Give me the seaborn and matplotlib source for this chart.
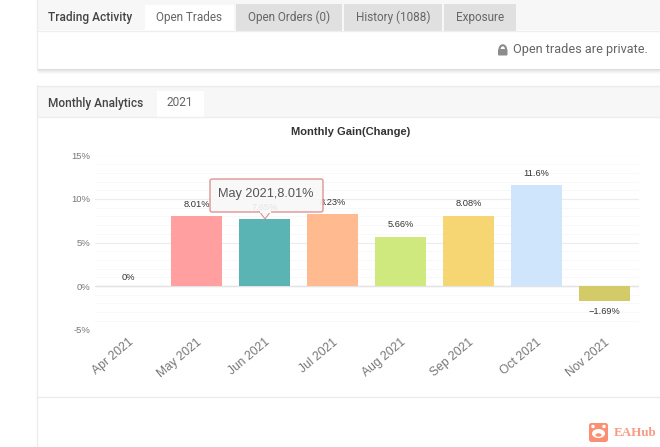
"""
Monthly gain bar chart inside the Trading Activity / Monthly Analytics page
"""

import matplotlib
matplotlib.use('Agg')
import matplotlib.pyplot as plt
from matplotlib.patches import Rectangle, FancyBboxPatch, Polygon, Ellipse, Arc
from matplotlib.ticker import MultipleLocator
import pandas as pd
import seaborn as sns

months = ['Apr 2021', 'May 2021', 'Jun 2021', 'Jul 2021',
          'Aug 2021', 'Sep 2021', 'Oct 2021', 'Nov 2021']
gains = [0, 8.01, 7.65, 8.23, 5.66, 8.08, 11.6, -1.69]
gain_labels = ['0%', '8.01%', '7.65%', '8.23%', '5.66%', '8.08%', '11.6%', '\u22121.69%']
bar_colors = ['#c23531', '#ff9f9f', '#5ab4b4', '#ffba8f',
              '#cfe97f', '#f6d673', '#cfe5fb', '#d3cb68']
y_ticks = [-5, 0, 5, 10, 15]

W, H = 660, 447

sns.set_theme(style='white')
plt.rcParams['font.family'] = ['Liberation Sans', 'DejaVu Sans']

fig = plt.figure(figsize=(W / 100, H / 100), dpi=100, facecolor='white')

# page chrome, drawn in pixel coordinates
page = fig.add_axes([0, 0, 1, 1], zorder=0)
page.set_xlim(0, W)
page.set_ylim(H, 0)
page.axis('off')


def box(x, y, w, h, color, **kw):
    page.add_patch(Rectangle((x, y), w, h, facecolor=color, edgecolor='none', **kw))


# shadow under the first card
for i, c in enumerate(['#dcdcdc', '#e6e6e6', '#eeeeee', '#f5f5f5', '#fafafa']):
    box(38, 69 + i, 622, 1, c)

# card borders
page.plot([36.5, 36.5], [0, 70], color='#ececec', lw=1)
page.plot([36.5, 36.5], [85, 447], color='#ececec', lw=1)
page.plot([37, 660], [85.5, 85.5], color='#ececec', lw=1)

# card headers
box(37, 0, 623, 30, '#f7f7f7')
box(37, 86, 623, 31, '#f7f7f7')
page.plot([37, 660], [30.5, 30.5], color='#eeeeee', lw=1)
page.plot([37, 660], [117, 117], color='#eeeeee', lw=1)
page.plot([37, 660], [396.5, 396.5], color='#ebebeb', lw=1)

# tabs
box(145, 5, 89, 26, 'white')
box(236, 4, 106, 27, '#e0e0e0')
box(344, 4, 98, 27, '#e0e0e0')
box(444, 4, 72, 27, '#e0e0e0')
box(157, 91, 47, 27, 'white')

chrome = dict(family='Roboto', va='center', ha='center')
page.text(48, 17, 'Trading Activity', fontsize=8.6, color='#444444', ha='left',
          va='center', family='Roboto', fontweight='medium')
page.text(189, 17, 'Open Trades', fontsize=8.5, color='#666666', **chrome)
page.text(289, 17, 'Open Orders (0)', fontsize=8.5, color='#666666', **chrome)
page.text(393, 17, 'History (1088)', fontsize=8.5, color='#666666', **chrome)
page.text(480, 17, 'Exposure', fontsize=8.5, color='#666666', **chrome)
page.text(48, 103, 'Monthly Analytics', fontsize=8.6, color='#444444', ha='left',
          va='center', family='Roboto', fontweight='medium')
page.text(180, 103, '2021', fontsize=8.6, color='#666666', **chrome)
page.text(648, 50, 'Open trades are private.', fontsize=9.2, color='#666666',
          ha='right', va='center', family='Roboto')

# lock icon
page.add_patch(FancyBboxPatch((498, 49), 9.5, 6.5, boxstyle='round,pad=0,rounding_size=1',
                              facecolor='#8c8c8c', edgecolor='none'))
page.add_patch(Arc((502.8, 49.5), 6.5, 8.5, theta1=180, theta2=360, color='#8c8c8c', lw=1.5))

# logo
page.add_patch(FancyBboxPatch((589, 423), 19, 19, boxstyle='round,pad=0,rounding_size=2.5',
                              facecolor='#fb8f73', edgecolor='none'))
page.add_patch(Ellipse((598.5, 433.5), 13, 9, facecolor='white', edgecolor='none'))
page.add_patch(Ellipse((598.5, 435), 6, 3.5, facecolor='#fb8f73', edgecolor='none'))
page.add_patch(Ellipse((593, 426.5), 3.5, 3.5, facecolor='white', edgecolor='none'))
page.add_patch(Ellipse((604, 426.5), 3.5, 3.5, facecolor='white', edgecolor='none'))
page.text(614, 432.5, 'EAHub', fontsize=9.4, color='#f79b84', ha='left', va='center',
          family='Liberation Serif', fontweight='bold')

# the chart itself
left, right, top, bottom = 94.5, 638.5, 155.5, 329.5
ax = fig.add_axes([left / W, 1 - bottom / H, (right - left) / W, (bottom - top) / H], zorder=1)
ax.patch.set_alpha(0)

df = pd.DataFrame({'month': months, 'gain': gains})
sns.barplot(data=df, x='month', y='gain', hue='month', palette=bar_colors, width=0.75,
            saturation=1, legend=False, linewidth=0, ax=ax, zorder=3)

ax.set_ylim(-5, 15)
ax.set_xlim(-0.5, len(months) - 0.5)
ax.set_yticks(y_ticks)
ax.set_yticklabels([f'{t}%' for t in y_ticks], fontsize=6.8, color='#777777')
ax.yaxis.set_minor_locator(MultipleLocator(1))
ax.grid(True, which='major', axis='y', color='#ececec', lw=0.8, zorder=0)
ax.grid(True, which='minor', axis='y', color='#f8f8f8', lw=0.7, zorder=0)
ax.yaxis.get_gridlines()[0].set_visible(False)
ax.axhline(0, color='#e3e3e3', lw=1, zorder=1)
ax.tick_params(axis='y', which='both', length=0, pad=3)
ax.tick_params(axis='x', length=0, pad=5)
ax.set_xticks(range(len(months)))
ax.set_xticklabels(months, rotation=40, ha='right', rotation_mode='anchor',
                   fontsize=8.7, color='#777777')
ax.set_xlabel('')
ax.set_ylabel('')
sns.despine(ax=ax, left=True, bottom=True)
ax.set_title('Monthly Gain(Change)', fontsize=8, fontweight='bold', color='#333333',
             x=0.47, pad=15)

# value labels
for i, (v, s) in enumerate(zip(gains, gain_labels)):
    if v == 0:
        offset = 6
    else:
        offset = -8 if v < 0 else 8.5
    ax.annotate(s, (i, v), xytext=(0, offset), textcoords='offset points',
                ha='center', va='center', fontsize=6.7, color='#333333', zorder=4)

# tooltip over the Jun bar
page2 = fig.add_axes([0, 0, 1, 1], zorder=2)
page2.set_xlim(0, W)
page2.set_ylim(H, 0)
page2.axis('off')
page2.add_patch(Polygon([[259, 211], [271, 211], [265, 219]], facecolor='#f8f8f8',
                        edgecolor='#d98a8a', lw=0.8, alpha=0.95))
page2.add_patch(FancyBboxPatch((210, 179), 113, 33, boxstyle='round,pad=0,rounding_size=2',
                               facecolor='#f8f8f8', edgecolor='#d98a8a', lw=1, alpha=0.9))
page2.add_patch(Rectangle((259.5, 210), 11, 2.5, facecolor='#f8f8f8', edgecolor='none'))
page2.text(265.5, 194, 'May 2021,8.01%', fontsize=9.2, color='#555555', ha='center',
           va='center', family='Liberation Sans')

fig.savefig('out.png', dpi=100)
